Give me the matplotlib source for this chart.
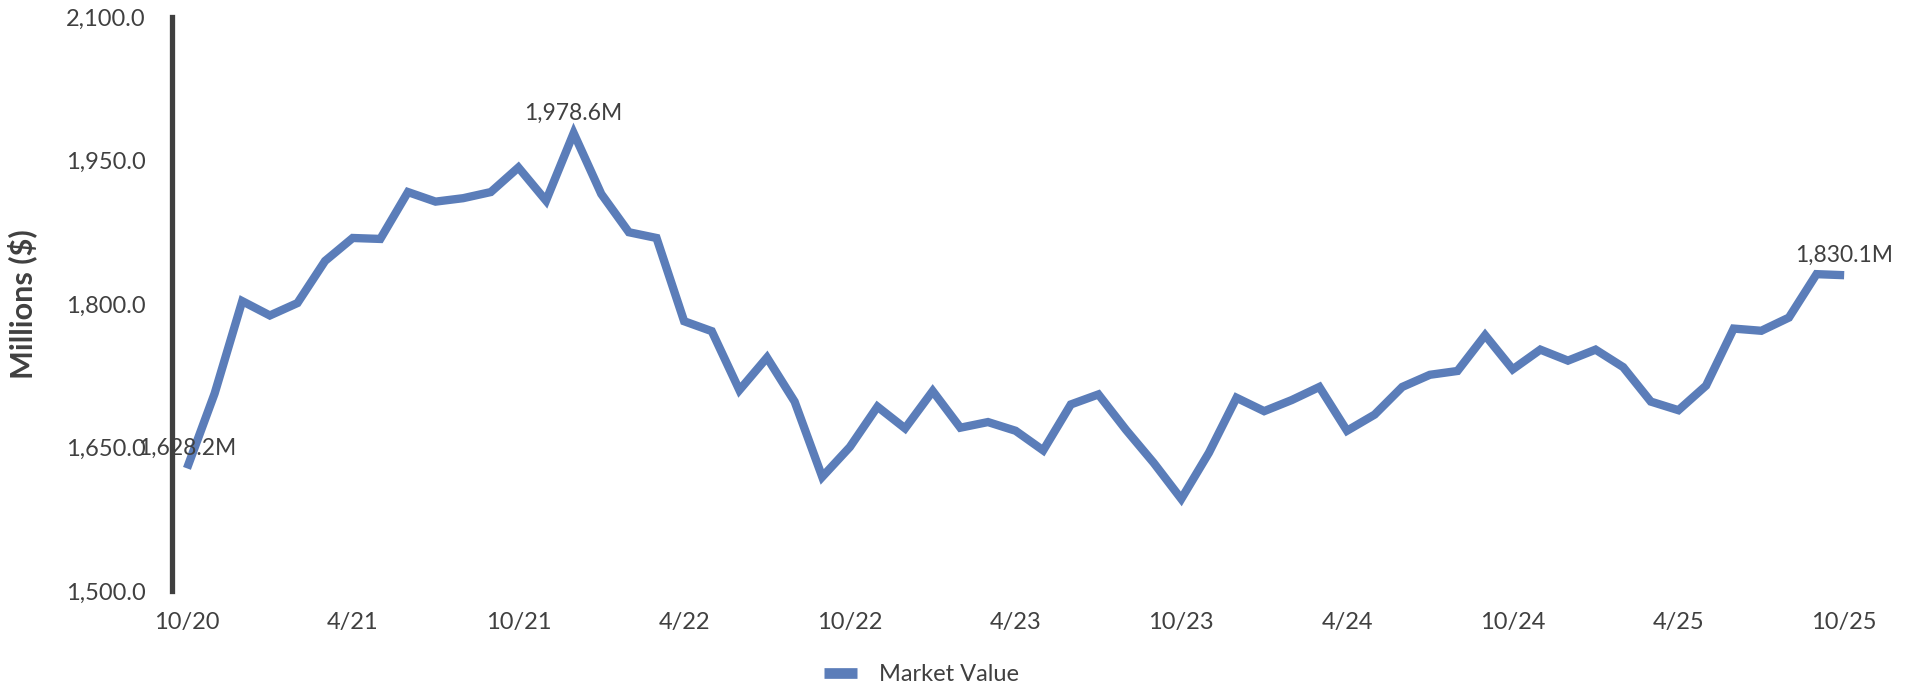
import numpy as np
import matplotlib
matplotlib.use('Agg')
import matplotlib.pyplot as plt
from matplotlib.lines import Line2D

plt.rcParams['font.family'] = ['Lato', 'DejaVu Sans']

# monthly market value, 10/20 .. 10/25 (millions)
market_value = [1628.2, 1706.4, 1803.0, 1788.0, 1801.0, 1845.0, 1869.0, 1868.0,
                1917.0, 1907.0, 1910.6, 1917.0, 1942.7, 1908.0, 1978.6, 1915.0,
                1875.0, 1869.0, 1782.0, 1771.6, 1710.0, 1744.0, 1698.0, 1619.3,
                1650.5, 1692.7, 1670.0, 1709.0, 1670.7, 1676.6, 1667.5, 1647.0,
                1695.0, 1705.5, 1668.4, 1634.0, 1596.3, 1644.5, 1702.0, 1688.0,
                1699.6, 1713.3, 1667.5, 1684.4, 1713.3, 1726.0, 1730.0, 1767.4,
                1731.7, 1752.3, 1740.8, 1752.3, 1734.0, 1698.0, 1689.0, 1714.7,
                1774.3, 1772.0, 1785.8, 1831.2, 1830.1]
tick_labels = ['10/20', '4/21', '10/21', '4/22', '10/22', '4/23',
               '10/23', '4/24', '10/24', '4/25', '10/25']
labelled = [0, 14, 60]   # first, peak, last
y_ticks = [1500, 1650, 1800, 1950, 2100]

line_col = '#5b7db9'
text_col = '#404040'

x = np.arange(len(market_value))

fig = plt.figure(figsize=(19.14, 6.87), dpi=100)
ax = fig.add_axes([0.0899, 0.1397, 0.8814, 0.8356])

ax.plot(x, market_value, color=line_col, lw=6, solid_capstyle='butt',
        solid_joinstyle='miter')

for i in labelled:
    ax.annotate(f'{market_value[i]:,.1f}M', (x[i], market_value[i]),
                xytext=(0, 7), textcoords='offset points', ha='center',
                va='bottom', fontsize=16.5, color=text_col)

ax.set_xlim(-0.54, len(market_value) - 1 + 0.54)
ax.set_ylim(1500, 2100)
ax.set_xticks(x[::6])
ax.set_xticklabels(tick_labels)
ax.set_yticks(y_ticks)
ax.set_yticklabels([f'{v:,.1f}' for v in y_ticks])
ax.tick_params(axis='both', length=0, labelsize=17, labelcolor=text_col)
ax.tick_params(axis='y', pad=19)
ax.tick_params(axis='x', pad=15)

for s in ['top', 'right', 'bottom']:
    ax.spines[s].set_visible(False)
ax.spines['left'].set_color('#3f3f3f')
ax.spines['left'].set_linewidth(3.8)

ax.set_ylabel('Millions ($)', fontsize=22, fontweight='bold', color=text_col)
ax.yaxis.set_label_coords(-0.08, 0.5)

handle = Line2D([], [], color=line_col, lw=7.7, solid_capstyle='butt')
fig.legend([handle], ['Market Value'], loc='center',
           bbox_to_anchor=(0.4815, 0.0175), frameon=False, fontsize=17,
           handlelength=1.4, handletextpad=0.9, labelcolor=text_col)

fig.savefig('out.png', dpi=100)
